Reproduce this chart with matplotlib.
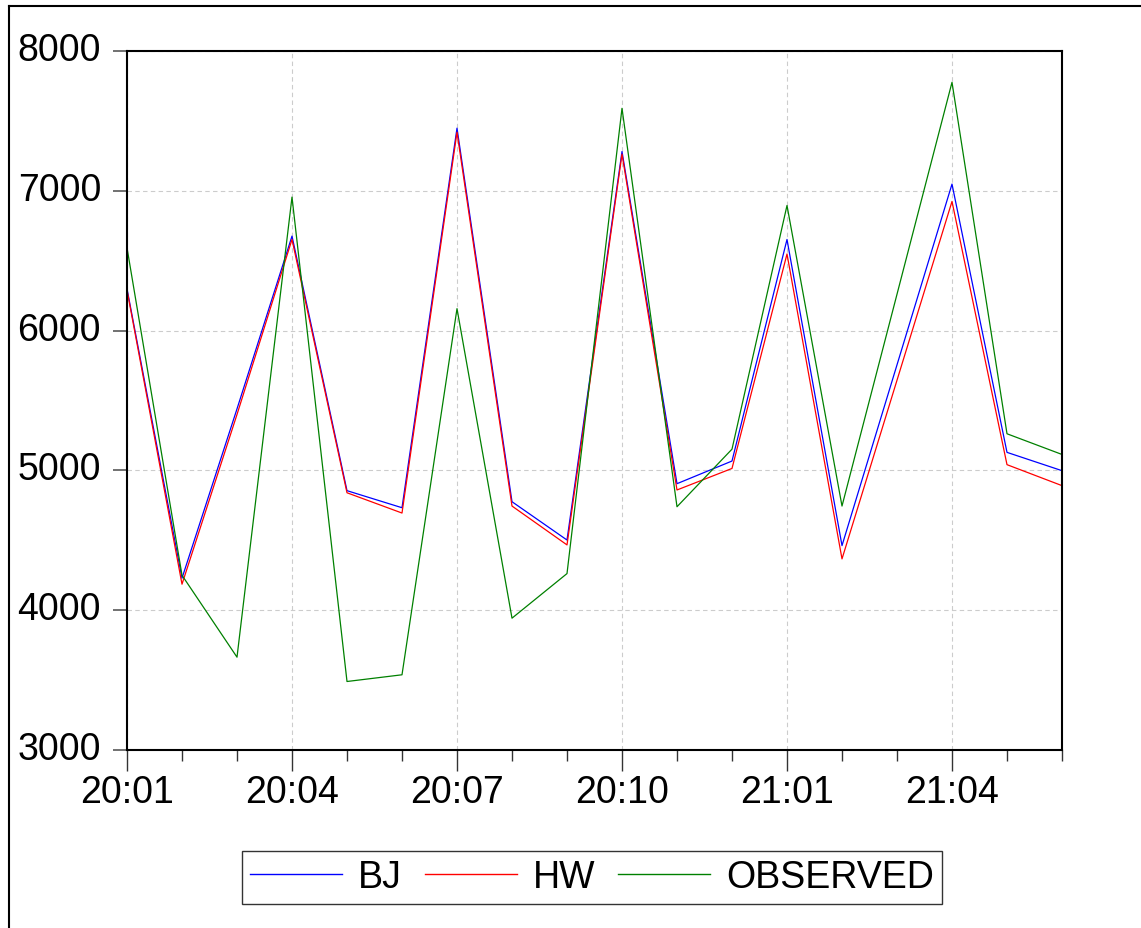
import matplotlib
matplotlib.use("Agg")
import matplotlib.pyplot as plt
from matplotlib.lines import Line2D
from matplotlib.ticker import FixedLocator
from matplotlib.transforms import ScaledTranslation

plt.rcParams['font.family'] = ['Liberation Sans', 'DejaVu Sans']

times = ["20:01", "20:02", "20:03", "20:04", "20:05", "20:06", "20:07", "20:08", "20:09",
         "20:10", "20:11", "20:12", "21:01", "21:02", "21:03", "21:04", "21:05", "21:06"]
bj = [6300, 4229, 5440, 6676, 4855, 4733, 7448, 4776, 4502,
      7281, 4905, 5067, 6652, 4462, 5755, 7048, 5129, 4998]
hw = [6290, 4186, 5400, 6652, 4840, 4695, 7419, 4745, 4467,
      7262, 4860, 5014, 6548, 4367, 5645, 6924, 5041, 4891]
observed = [6593, 4250, 3664, 6955, 3490, 3538, 6157, 3943, 4262,
            7590, 4740, 5152, 6895, 4745, 6260, 7776, 5262, 5114]
labeled = ["20:01", "20:04", "20:07", "20:10", "21:01", "21:04"]
yticks = [3000, 4000, 5000, 6000, 7000, 8000]

W, H = 1141, 929
fig = plt.figure(figsize=(W / 100, H / 100), dpi=100)
ax = fig.add_axes([127 / W, 1 - 751 / H, 935 / W, 699 / H])

x = list(range(len(times)))
ax.plot(x, bj, color='#0000ff', lw=0.9, label='BJ')
ax.plot(x, hw, color='#ff0000', lw=0.9, label='HW')
ax.plot(x, observed, color='#008000', lw=0.9, label='OBSERVED')

ax.set_xlim(0, len(times) - 1)
ax.set_ylim(3000, 8000)
major = [times.index(t) for t in labeled]
ax.xaxis.set_major_locator(FixedLocator(major))
ax.set_xticklabels(labeled)
ax.xaxis.set_minor_locator(FixedLocator([i for i in x if i not in major]))
ax.set_yticks(yticks)
ax.set_yticklabels([str(v) for v in yticks])

ax.tick_params(axis='x', which='major', direction='out', length=15, width=1.0,
               color='#333333', labelsize=27, pad=2)
ax.tick_params(axis='x', which='minor', direction='out', length=8, width=1.0,
               color='#333333')
ax.tick_params(axis='y', which='major', direction='out', length=10, width=1.3,
               color='#666666', labelsize=27, pad=8)
shift = ScaledTranslation(-1 / 100, 5 / 100, fig.dpi_scale_trans)
for lbl in ax.get_yticklabels():
    lbl.set_verticalalignment('center_baseline')
    lbl.set_transform(lbl.get_transform() + shift)

ax.grid(True, which='major', color='#cccccc', linestyle=(0, (4, 3)), lw=0.8)
for s in ax.spines.values():
    s.set_color('black')
    s.set_linewidth(1.5)

leg = fig.legend(loc='center', bbox_to_anchor=(592 / W, 1 - 878.5 / H), ncol=3,
                 fontsize=27, frameon=True, fancybox=False, shadow=False,
                 handlelength=2.45, handletextpad=0.42, columnspacing=0.62,
                 borderpad=0.22, borderaxespad=0)
leg.get_frame().set_edgecolor('black')
leg.get_frame().set_linewidth(1.0)
for h in leg.get_lines():
    h.set_linewidth(1.0)

# outer border of the figure
fig.add_artist(Line2D([9 / W, 1.0], [1 - 7 / H, 1 - 7 / H], transform=fig.transFigure,
                      color='black', lw=1.5))
fig.add_artist(Line2D([9 / W, 9 / W], [0.0, 1 - 7 / H], transform=fig.transFigure,
                      color='black', lw=1.5))

fig.savefig('out.png', dpi=100)
